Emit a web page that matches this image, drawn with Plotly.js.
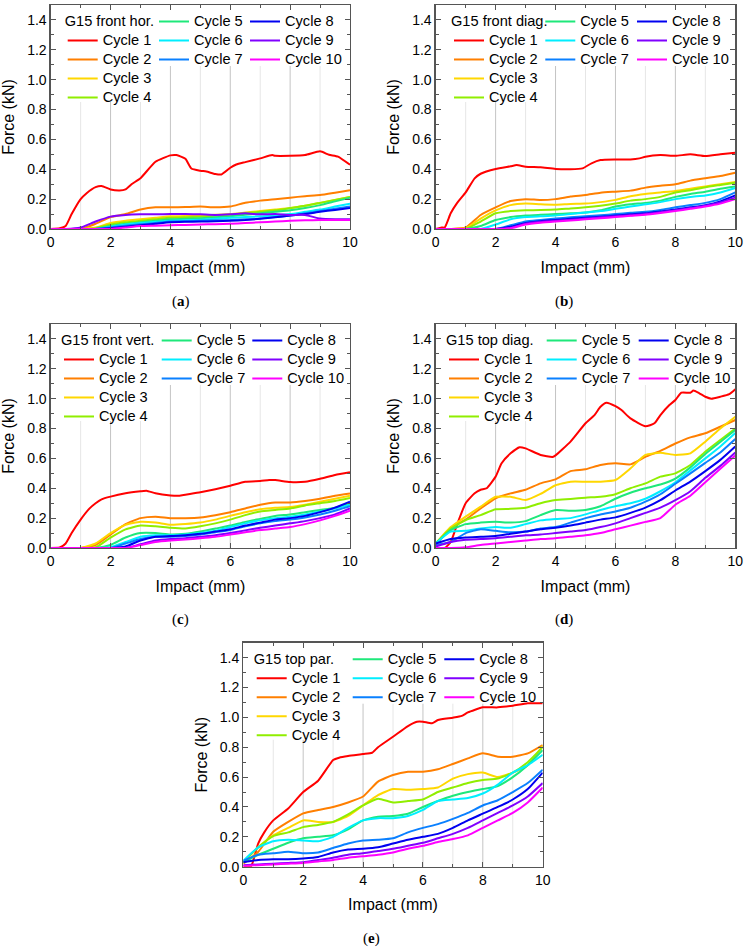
<!DOCTYPE html>
<html><head><meta charset="utf-8">
<script src="https://cdn.plot.ly/plotly-3.0.1.min.js"></script>
<style>body{margin:0;background:#fff}#chart{width:747px;height:951px}</style>
</head><body><div id="chart"></div>
<script>
// ---------- data ----------
const cycleNames = ['Cycle 1','Cycle 2','Cycle 3','Cycle 4','Cycle 5','Cycle 6','Cycle 7','Cycle 8','Cycle 9','Cycle 10'];
const cycleColors = ['#ff0000','#ff7f00','#ffd700','#90ee00','#1ee87a','#00eeff','#0a80ff','#0000f0','#8000ff','#ff00ff'];
const panelTitles = ['G15 front hor.','G15 front diag.','G15 front vert.','G15 top diag.','G15 top par.'];
const panelLabels = ['a','b','c','d','e'];
const xTickVals = [0,2,4,6,8,10];
const yTickVals = [0,0.2,0.4,0.6,0.8,1.0,1.2,1.4];
const gridVals = [1,2,3,4,5,6,7,8,9];
// impact grid (mm) for cycles 2-10
const X = [0,0.5,1,1.5,2,2.5,3,3.5,4,4.5,5,5.5,6,6.5,7,7.5,8,8.5,9,9.5,10];

// (a) G15 front hor.
const a1x = [0,0.3,0.5,0.7,1.0,1.2,1.5,1.7,2.0,2.3,2.5,2.7,3.0,3.5,4.0,4.2,4.5,4.7,5.0,5.2,5.5,5.7,6.0,6.2,6.5,7.0,7.4,7.5,8.0,8.5,9.0,9.3,9.6,10];
const a1 = [0,0.005,0.02,0.1,0.2,0.24,0.28,0.288,0.265,0.258,0.265,0.3,0.34,0.45,0.493,0.495,0.47,0.405,0.39,0.385,0.368,0.365,0.41,0.432,0.448,0.473,0.495,0.49,0.49,0.495,0.52,0.497,0.485,0.43];
const a2 = [0,0,0,0.035,0.08,0.1,0.13,0.145,0.145,0.147,0.15,0.145,0.15,0.176,0.19,0.2,0.21,0.22,0.227,0.243,0.26];
const a3 = [0,0,0,0.01,0.04,0.055,0.065,0.075,0.085,0.088,0.09,0.095,0.1,0.11,0.12,0.13,0.14,0.155,0.175,0.195,0.215];
const a4 = [0,0,0,0.005,0.03,0.045,0.055,0.065,0.075,0.078,0.082,0.088,0.095,0.105,0.115,0.125,0.14,0.155,0.175,0.195,0.215];
const a5 = [0,0,0,0,0.02,0.035,0.045,0.055,0.065,0.068,0.072,0.078,0.085,0.095,0.105,0.115,0.125,0.14,0.16,0.185,0.21];
const a6 = [0,0,0,0,0.015,0.03,0.04,0.048,0.055,0.058,0.062,0.068,0.075,0.08,0.085,0.09,0.1,0.115,0.13,0.15,0.17];
const a7 = [0,0,0,0,0.01,0.022,0.032,0.04,0.05,0.052,0.055,0.058,0.06,0.065,0.07,0.08,0.09,0.105,0.12,0.135,0.15];
const a8 = [0,0,0,0,0.005,0.015,0.025,0.035,0.045,0.048,0.05,0.052,0.055,0.06,0.068,0.078,0.09,0.1,0.115,0.128,0.14];
const a9 = [0,0,0.01,0.05,0.083,0.094,0.098,0.098,0.1,0.1,0.098,0.094,0.098,0.105,0.098,0.1,0.094,0.094,0.07,0.065,0.065];
const a10 = [0,0,0,0,0,0.01,0.02,0.022,0.025,0.027,0.03,0.032,0.035,0.04,0.045,0.05,0.055,0.058,0.06,0.06,0.06];

// (b) G15 front diag.
const b1x = [0,0.2,0.3,0.5,0.7,1.0,1.3,1.5,2.0,2.5,2.7,3.0,3.5,4.0,4.5,4.9,5.2,5.5,6.0,6.5,6.8,7.0,7.5,8.0,8.5,9.0,9.5,10];
const b1 = [0,0.01,0.01,0.105,0.17,0.245,0.339,0.37,0.402,0.42,0.428,0.417,0.413,0.402,0.4,0.406,0.44,0.462,0.466,0.466,0.473,0.484,0.495,0.49,0.5,0.489,0.5,0.511];
const b2 = [0,0,0.01,0.094,0.145,0.187,0.2,0.194,0.2,0.217,0.228,0.243,0.25,0.257,0.277,0.29,0.3,0.324,0.34,0.355,0.377];
const b3 = [0,0,0.005,0.07,0.125,0.16,0.17,0.165,0.163,0.168,0.17,0.18,0.195,0.22,0.235,0.245,0.255,0.27,0.285,0.3,0.315];
const b4 = [0,0,0,0.05,0.105,0.12,0.125,0.127,0.13,0.138,0.145,0.155,0.17,0.19,0.2,0.215,0.245,0.26,0.28,0.295,0.31];
const b5 = [0,0,0,0.02,0.06,0.08,0.09,0.095,0.1,0.105,0.11,0.125,0.15,0.165,0.175,0.19,0.215,0.235,0.25,0.27,0.285];
const b6 = [0,0,0,0,0.03,0.065,0.08,0.085,0.09,0.1,0.11,0.12,0.135,0.15,0.165,0.18,0.2,0.215,0.225,0.245,0.275];
const b7 = [0,0,0,0,0,0.025,0.05,0.06,0.07,0.078,0.085,0.092,0.1,0.108,0.115,0.128,0.145,0.16,0.175,0.2,0.245];
const b8 = [0,0,0,0,0,0.015,0.04,0.052,0.06,0.068,0.075,0.082,0.09,0.098,0.105,0.118,0.13,0.145,0.16,0.185,0.225];
const b9 = [0,0,0,0,0,0.008,0.035,0.048,0.055,0.062,0.07,0.078,0.085,0.092,0.1,0.112,0.125,0.14,0.155,0.178,0.21];
const b10 = [0,0,0,0,0,0.005,0.03,0.042,0.05,0.057,0.065,0.072,0.08,0.088,0.095,0.107,0.12,0.135,0.15,0.17,0.2];

// (c) G15 front vert.
const c1x = [0,0.3,0.5,0.7,1.0,1.3,1.5,1.7,2.0,2.5,3.0,3.2,3.5,4.0,4.3,4.5,5.0,5.5,6.0,6.5,7.0,7.3,7.5,8.0,8.5,9.0,9.5,10];
const c1 = [0,0.003,0.03,0.1,0.19,0.265,0.3,0.326,0.344,0.366,0.38,0.384,0.366,0.352,0.35,0.357,0.373,0.393,0.417,0.444,0.449,0.455,0.455,0.442,0.444,0.464,0.489,0.507];
const c2 = [0,0,0,0.02,0.09,0.16,0.2,0.21,0.2,0.2,0.205,0.22,0.24,0.265,0.29,0.305,0.305,0.315,0.33,0.35,0.365];
const c3 = [0,0,0,0.03,0.1,0.155,0.175,0.17,0.155,0.16,0.17,0.19,0.215,0.24,0.26,0.27,0.275,0.29,0.31,0.33,0.35];
const c4 = [0,0,0,0.005,0.07,0.125,0.15,0.145,0.135,0.13,0.145,0.165,0.19,0.22,0.245,0.255,0.265,0.285,0.3,0.315,0.335];
const c5 = [0,0,0,0,0.02,0.07,0.1,0.1,0.09,0.095,0.11,0.13,0.15,0.175,0.195,0.215,0.225,0.24,0.255,0.27,0.3];
const c6 = [0,0,0,0,0.005,0.04,0.075,0.085,0.085,0.09,0.1,0.115,0.14,0.165,0.185,0.2,0.21,0.225,0.245,0.265,0.29];
const c7 = [0,0,0,0,0,0.03,0.06,0.075,0.075,0.08,0.09,0.105,0.12,0.145,0.165,0.18,0.19,0.205,0.225,0.25,0.28];
const c8 = [0,0,0,0,0,0.01,0.05,0.075,0.08,0.085,0.095,0.11,0.125,0.15,0.17,0.19,0.2,0.215,0.24,0.27,0.31];
const c9 = [0,0,0,0,0,0,0.025,0.05,0.06,0.065,0.075,0.085,0.1,0.118,0.135,0.15,0.165,0.18,0.2,0.225,0.265];
const c10 = [0,0,0,0,0,0,0.02,0.04,0.05,0.057,0.065,0.075,0.09,0.105,0.12,0.13,0.14,0.16,0.185,0.215,0.25];

// (d) G15 top diag.
const d1x = [0,0.3,0.5,0.7,1.0,1.3,1.5,1.7,2.0,2.2,2.5,2.8,3.0,3.5,3.9,4.0,4.5,5.0,5.3,5.5,5.7,6.0,6.2,6.5,7.0,7.3,7.5,7.8,8.0,8.2,8.5,8.6,8.8,9.0,9.2,9.5,9.8,10];
const d1 = [0,0,0.04,0.15,0.3,0.366,0.39,0.4,0.478,0.567,0.634,0.675,0.667,0.623,0.61,0.62,0.712,0.835,0.89,0.946,0.973,0.95,0.924,0.868,0.815,0.835,0.89,0.957,0.991,1.04,1.04,1.054,1.036,1.013,1.0,1.013,1.03,1.063];
const d2 = [0.02,0.13,0.19,0.265,0.333,0.366,0.39,0.433,0.46,0.515,0.527,0.556,0.567,0.56,0.61,0.65,0.7,0.741,0.768,0.812,0.857];
const d3 = [0.03,0.14,0.21,0.277,0.343,0.343,0.321,0.362,0.42,0.444,0.444,0.444,0.455,0.533,0.623,0.638,0.623,0.634,0.712,0.8,0.879];
const d4 = [0.03,0.13,0.187,0.22,0.259,0.262,0.27,0.3,0.321,0.328,0.337,0.343,0.36,0.4,0.433,0.478,0.5,0.556,0.645,0.723,0.8];
const d5 = [0.03,0.12,0.16,0.17,0.175,0.17,0.18,0.22,0.254,0.25,0.255,0.28,0.33,0.37,0.4,0.425,0.465,0.54,0.63,0.71,0.79];
const d6 = [0.03,0.11,0.115,0.13,0.14,0.135,0.16,0.185,0.195,0.2,0.225,0.255,0.28,0.3,0.33,0.38,0.44,0.52,0.6,0.68,0.77];
const d7 = [0.02,0.04,0.1,0.125,0.115,0.105,0.11,0.13,0.14,0.17,0.2,0.225,0.245,0.27,0.31,0.36,0.43,0.5,0.57,0.64,0.73];
const d8 = [0.03,0.06,0.07,0.075,0.08,0.095,0.11,0.125,0.135,0.15,0.17,0.19,0.205,0.235,0.27,0.32,0.385,0.445,0.515,0.59,0.68];
const d9 = [0.01,0.04,0.055,0.06,0.065,0.075,0.085,0.09,0.1,0.11,0.12,0.14,0.165,0.2,0.235,0.27,0.32,0.38,0.47,0.55,0.64];
const d10 = [0,0,0.005,0.02,0.03,0.04,0.05,0.06,0.065,0.075,0.085,0.1,0.125,0.15,0.175,0.2,0.29,0.35,0.44,0.53,0.62];

// (e) G15 top par.
const e1x = [0,0.25,0.3,0.5,0.7,1.0,1.5,2.0,2.5,3.0,3.2,3.5,4.0,4.3,4.5,5.0,5.5,5.8,6.0,6.3,6.5,7.0,7.3,7.5,8.0,8.5,9.0,9.5,10];
const e1 = [0,0,0.02,0.156,0.23,0.31,0.39,0.5,0.576,0.714,0.73,0.741,0.754,0.763,0.8,0.87,0.942,0.971,0.971,0.96,0.982,0.998,1.01,1.033,1.067,1.067,1.078,1.094,1.094];
const e2 = [0.02,0.1,0.234,0.3,0.357,0.38,0.4,0.43,0.47,0.57,0.614,0.636,0.636,0.652,0.688,0.725,0.759,0.737,0.737,0.759,0.815];
const e3 = [0.03,0.13,0.21,0.26,0.31,0.3,0.3,0.34,0.41,0.48,0.52,0.515,0.52,0.53,0.59,0.62,0.63,0.6,0.63,0.68,0.81];
const e4 = [0.03,0.13,0.205,0.23,0.265,0.28,0.3,0.35,0.41,0.455,0.43,0.44,0.45,0.5,0.53,0.56,0.58,0.59,0.63,0.7,0.8];
const e5 = [0.03,0.08,0.12,0.16,0.19,0.2,0.21,0.25,0.31,0.335,0.34,0.355,0.4,0.44,0.475,0.5,0.52,0.54,0.6,0.68,0.78];
const e6 = [0.04,0.13,0.17,0.18,0.175,0.17,0.2,0.26,0.31,0.325,0.325,0.34,0.38,0.44,0.45,0.46,0.49,0.55,0.63,0.68,0.75];
const e7 = [0.04,0.08,0.09,0.1,0.09,0.095,0.125,0.155,0.175,0.18,0.19,0.23,0.26,0.285,0.32,0.36,0.41,0.445,0.5,0.56,0.65];
const e8 = [0.03,0.045,0.05,0.05,0.055,0.065,0.095,0.115,0.12,0.13,0.155,0.18,0.2,0.22,0.26,0.31,0.355,0.4,0.45,0.52,0.63];
const e9 = [0.01,0.015,0.02,0.025,0.03,0.045,0.06,0.08,0.09,0.105,0.12,0.14,0.16,0.19,0.22,0.26,0.31,0.36,0.41,0.47,0.56];
const e10 = [0.005,0.01,0.015,0.02,0.025,0.035,0.045,0.06,0.07,0.08,0.095,0.12,0.14,0.165,0.185,0.21,0.26,0.31,0.36,0.43,0.53];

// ---------- layout geometry (pixels) ----------
const W = 747, H = 951;
const FONT = 'Liberation Sans, Arial, sans-serif';
// box: plot area [left, right, top, bottom]; leg: left edge of each legend column; lab: sub-figure label centre
const panels = [
  {c1x:a1x, ys:[a1,a2,a3,a4,a5,a6,a7,a8,a9,a10], box:[50.7,350,5,229], leg:[62.7,154,245], lab:[180.5,301]},
  {c1x:b1x, ys:[b1,b2,b3,b4,b5,b6,b7,b8,b9,b10], box:[435.7,735.3,5,229], leg:[449,540.3,632], lab:[564,301]},
  {c1x:c1x, ys:[c1,c2,c3,c4,c5,c6,c7,c8,c9,c10], box:[50.7,350,324,548], leg:[59,156.7,247.3], lab:[180.5,619]},
  {c1x:d1x, ys:[d1,d2,d3,d4,d5,d6,d7,d8,d9,d10], box:[435.7,735.3,324,548], leg:[444,541.7,633.7], lab:[564,619]},
  {c1x:e1x, ys:[e1,e2,e3,e4,e5,e6,e7,e8,e9,e10], box:[243.3,542.7,642.7,866.7], leg:[251.7,347.7,439.3], lab:[371,938]}
];
const px = v => v / W;
const py = v => 1 - v / H;
const nm = s => '<span style="font-size:14.6px">' + s + '</span>';

const traces = [];
const layout = {
  width: W, height: H, margin: {l:0, r:0, t:0, b:0},
  paper_bgcolor: '#fff', plot_bgcolor: '#fff',
  font: {family: FONT, color: '#000', size: 14},
  showlegend: true, annotations: [], shapes: [], hovermode: false
};

panels.forEach((p, pi) => {
  const sfx = pi === 0 ? '' : String(pi + 1);
  const xa = 'x' + sfx, ya = 'y' + sfx;
  const legIds = [0,1,2].map(k => { const n = pi*3 + k + 1; return n === 1 ? 'legend' : 'legend' + n; });
  p.ys.forEach((ys, ci) => {
    const col = ci < 4 ? 0 : (ci < 7 ? 1 : 2);
    traces.push({
      type: 'scatter', mode: 'lines',
      x: ci === 0 ? p.c1x : X, y: ys,
      name: nm(cycleNames[ci]),
      line: {color: cycleColors[ci], width: 2, shape: 'spline', smoothing: 0.5},
      xaxis: xa, yaxis: ya, legend: legIds[col]
    });
  });
  const [l, r, t, b] = p.box;
  layout['xaxis' + sfx] = {
    domain: [px(l), px(r)], anchor: ya, range: [0, 10], tickvals: xTickVals,
    ticks: 'inside', ticklen: 5, tickwidth: 1, tickcolor: '#555',
    showline: true, linecolor: '#555', linewidth: 1.3, mirror: 'ticks',
    showgrid: false, zeroline: false,
    tickfont: {size: 14, family: FONT, color: '#000'},
    minor: {dtick: 1, tick0: 0, ticks: 'inside', ticklen: 3, tickcolor: '#555', showgrid: false},
    title: {text: 'Impact (mm)', font: {size: 16, family: FONT, color: '#000'}, standoff: 12}
  };
  layout['yaxis' + sfx] = {
    domain: [py(b), py(t)], anchor: xa, range: [0, 1.5], tickvals: yTickVals, tickformat: '.1f',
    ticks: 'inside', ticklen: 5, tickwidth: 1, tickcolor: '#555',
    showline: true, linecolor: '#555', linewidth: 1.3, mirror: 'ticks',
    showgrid: false, zeroline: false,
    tickfont: {size: 14, family: FONT, color: '#000'},
    minor: {dtick: 0.1, tick0: 0, ticks: 'inside', ticklen: 3, tickcolor: '#555', showgrid: false},
    title: {text: 'Force (kN)', font: {size: 16, family: FONT, color: '#000'}, standoff: 8}
  };
  legIds.forEach((id, k) => {
    const L = {
      x: px(p.leg[k]), y: py(t + 2), xanchor: 'left', yanchor: 'top',
      bgcolor: 'rgba(255,255,255,0)', borderwidth: 0, traceorder: 'normal',
      font: {size: 11.6, family: FONT, color: '#000'},
      itemclick: false, itemdoubleclick: false
    };
    if (k === 0) L.title = {text: panelTitles[pi], side: 'top', font: {size: 14.6, family: FONT, color: '#000'}};
    layout[id] = L;
  });
  // vertical grid lines, stopping beneath the legend block
  const c2L = p.leg[1];
  gridVals.forEach(g => {
    const gx = l + g / 10 * (r - l);
    const topPx = gx < c2L ? t + 97 : t + 61;
    layout.shapes.push({
      type: 'line', layer: 'below', xref: xa, yref: ya + ' domain',
      x0: g, x1: g, y0: 0, y1: (b - topPx) / (b - t),
      line: {color: g % 2 === 0 ? '#c4c4c4' : '#e6e6e6', width: 1}
    });
  });
  layout.annotations.push({
    xref: 'paper', yref: 'paper', x: px(p.lab[0]), y: py(p.lab[1]),
    xanchor: 'center', yanchor: 'middle', showarrow: false,
    text: '(<b>' + panelLabels[pi] + '</b>)',
    font: {family: 'Liberation Serif, Times New Roman, serif', size: 15, color: '#000'}
  });
});

Plotly.newPlot('chart', traces, layout, {staticPlot: true, displayModeBar: false});
</script>
</body></html>
